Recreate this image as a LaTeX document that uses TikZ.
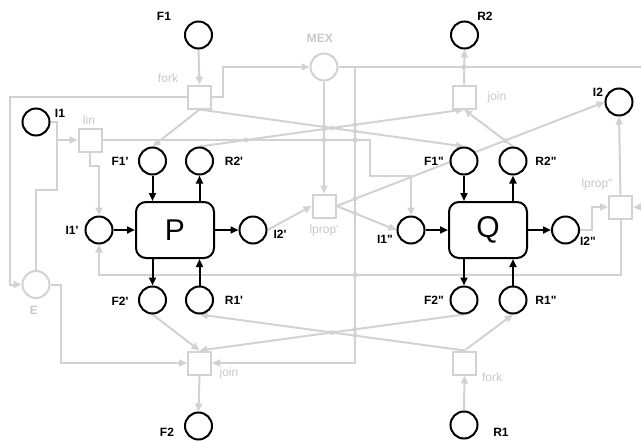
\documentclass[tikz,border=0pt]{standalone}
\usepackage{fontspec}
\newfontfamily\lab{Liberation Sans}
\usetikzlibrary{arrows.meta}
\definecolor{lg}{RGB}{210,210,210}
\definecolor{lgt}{RGB}{200,200,200}
\pgfdeclarelayer{bg}\pgfsetlayers{bg,main}
\tikzset{
 place/.style={circle,draw=black,line width=2pt,fill=white,minimum size=27pt,inner sep=0pt},
 gplace/.style={circle,draw=lg,line width=2pt,fill=white,minimum size=27pt,inner sep=0pt},
 gbox/.style={rectangle,draw=lg,line width=2pt,fill=white,minimum size=23pt,inner sep=0pt},
 proc/.style={rectangle,rounded corners=10pt,draw=black,line width=2pt,fill=white,minimum width=78pt,minimum height=56pt,inner sep=0pt,font=\lab\fontsize{30}{34}\selectfont},
 blab/.style={font=\lab\bfseries\fontsize{12}{14}\selectfont,inner sep=0pt},
 glab/.style={font=\lab\fontsize{12}{14}\selectfont,text=lgt,inner sep=0pt},
 gblab/.style={font=\lab\bfseries\fontsize{12}{14}\selectfont,text=lgt,inner sep=0pt},
 barrow/.style={draw=black,line width=2pt,-{Triangle[length=8pt,width=7pt]}},
 gline/.style={draw=lg,line width=2pt},
 garrow/.style={gline,-{Triangle[length=8pt,width=7pt]}}
}
\begin{document}
\begin{tikzpicture}[x=1pt,y=-1pt]
\useasboundingbox (0,0) rectangle (641,440);
\clip (0,0) rectangle (641,440);
% places
\node[place] (F1) at (198.5,35) {};
\node[place] (R2) at (464.5,35) {};
\node[gplace] (MEX) at (324,67) {};
\node[place] (I1) at (36,122) {};
\node[place] (I2) at (619,102) {};
\node[place] (F1p) at (152.5,161) {};
\node[place] (R2p) at (199.5,161) {};
\node[place] (F1pp) at (464,161) {};
\node[place] (R2pp) at (513,161) {};
\node[place] (I1p) at (99,230) {};
\node[place] (I2p) at (253,230) {};
\node[place] (I1pp) at (411,230) {};
\node[place] (I2pp) at (565.5,230) {};
\node[place] (F2p) at (152.5,300) {};
\node[place] (R1p) at (199.5,300) {};
\node[place] (F2pp) at (464,300) {};
\node[place] (R1pp) at (513,300) {};
\node[gplace] (E) at (36,284.5) {};
\node[place] (F2) at (198.5,426) {};
\node[place] (R1) at (464,425) {};
% transitions
\node[gbox] (fk1) at (199.5,97) {};
\node[gbox] (jn1) at (464,97) {};
\node[gbox] (lin) at (90,140) {};
\node[gbox] (lp1) at (324,206) {};
\node[gbox] (lp2) at (620.5,207) {};
\node[gbox] (jn2) at (199.5,363) {};
\node[gbox] (fk2) at (464.5,363) {};
\node[proc] (P) at (175,230) {P};
\node[proc] (Q) at (488,230) {Q};
% labels
\node[blab] (tF1) at (164,16) {F1};
\node[blab] (tR2) at (485,16) {R2};
\node[blab] (tI1) at (60,113) {I1};
\node[blab] (tI2) at (598,92) {I2};
\node[gblab] (tMEX) at (320,38) {MEX};
\node[glab] (tfk1) at (168,78) {fork};
\node[glab] (tlin) at (89,120) {lin};
\node[glab] (tjn1) at (497,97) {join};
\node[blab] (tF1p) at (120,161) {F1'};
\node[blab] (tR2p) at (234,161) {R2'};
\node[blab] (tI1p) at (72,230) {I1'};
\node[blab] (tI2p) at (280,234) {I2'};
\node[glab] (tlp1) at (324,230) {lprop'};
\node[blab] (tI1pp) at (385,239) {I1"};
\node[blab] (tF1pp) at (434,161) {F1"};
\node[blab] (tR2pp) at (546,161) {R2"};
\node[glab] (tlp2) at (597,184) {lprop"};
\node[blab] (tI2pp) at (588,241) {I2"};
\node[blab] (tF2p) at (120,301) {F2'};
\node[blab] (tR1p) at (234,300) {R1'};
\node[blab] (tF2pp) at (434,300) {F2"};
\node[blab] (tR1pp) at (546,300) {R1"};
\node[glab] (tjn2) at (229,373) {join};
\node[glab] (tfk2) at (492,377) {fork};
\node[blab] (tF2) at (167,432) {F2};
\node[blab] (tR1) at (501,432) {R1};
\node[gblab] (tE) at (34,310) {E};
% black arcs
\draw[barrow] (F1p.south) -- (F1p.south |- P.north);
\draw[barrow] (R2p.south |- P.north) -- (R2p.south);
\draw[barrow] (I1p.east) -- (P.west);
\draw[barrow] (P.east) -- (I2p.west);
\draw[barrow] (F2p.north |- P.south) -- (F2p.north);
\draw[barrow] (R1p.north) -- (R1p.north |- P.south);
\draw[barrow] (F1pp.south) -- (F1pp.south |- Q.north);
\draw[barrow] (R2pp.south |- Q.north) -- (R2pp.south);
\draw[barrow] (I1pp.east) -- (Q.west);
\draw[barrow] (Q.east) -- (I2pp.west);
\draw[barrow] (F2pp.north |- Q.south) -- (F2pp.north);
\draw[barrow] (R1pp.north) -- (R1pp.north |- Q.south);
% gray arcs
\begin{pgfonlayer}{bg}
\draw[garrow] (F1.south) -- (fk1.north);
\draw[garrow] (fk1.east) -- ++(11,0) |- (MEX.west);
\draw[garrow] (fk1.south) -- (F1p.north);
\draw[garrow] (fk1.south) -- (F1pp.north);
\draw[garrow] (R2p.north) -- (jn1.south);
\draw[garrow] (R2pp.north) -- (jn1.south);
\draw[garrow] (jn1.north) -- (R2.south);
\draw[garrow] (MEX.east) -- (650,67) -- (650,207) -- (lp2.east);
\draw[garrow] (MEX.east) -- (355,67) |- (jn2.east);
\draw[garrow] (MEX.south) -- (lp1.north);
\draw[garrow] (I1.east) -- (57,122) |- (lin.west);
\draw[gline] (I1.east) -- (57,122) -- (57,190) -- (36,190) -- (E.north);
\draw[garrow] (fk1.west) -- (10,97) |- (E.west);
\draw[garrow] (E.east) -- (61,284.5) |- (jn2.west);
\draw[garrow] (lin.south) -- (90,166) -| (I1p.north);
\draw[garrow] (lin.east) -- (370,140) -- (370,176) -| (I1pp.north);
\draw[garrow] (I2p.east) -- (lp1.west);
\draw[garrow] (lp1.east) -- (I1pp.west);
\draw[garrow] (lp1.east) -- (I2.west);
\draw[garrow] (I2pp.east) -- (592,230) |- (lp2.west);
\draw[garrow] (lp2.north) -- (I2.south);
\draw[garrow] (lp2.south) -- (620.5,275) -| (I1p.south);
\draw[garrow] (F2p.south) -- (jn2.north);
\draw[garrow] (F2pp.south) -- (jn2.north);
\draw[garrow] (fk2.north) -- (R1p.south);
\draw[garrow] (fk2.north) -- (R1pp.south);
\draw[garrow] (R1.north) -- (fk2.south);
\draw[garrow] (jn2.south) -- (F2.north);
% line hops
\foreach \p in {(246,140),(324,126.9),(324,129.1),(331.75,128),(355,124.75),(355,131.25),(324,140),(355,140),(355,198.8),(355,213.4),(355,275),(355,329.3),(355,335.6),(331.9,332.5),(464,67),(505.2,140.6)}
  \fill[lg] \p circle (2.4pt);
\end{pgfonlayer}
\end{tikzpicture}
\end{document}
